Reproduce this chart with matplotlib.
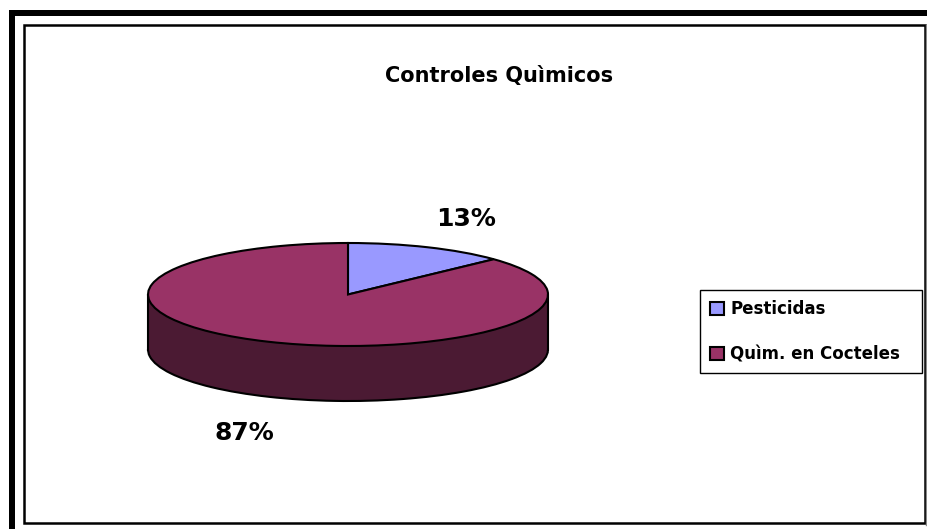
import matplotlib
matplotlib.use("Agg")
import matplotlib.pyplot as plt
from matplotlib.patches import Rectangle

title = "Controles Quìmicos"
labels = ["Pesticidas", "Quìm. en Cocteles"]
values = [13, 87]
top_colors = ["#9999FF", "#993366"]
side_color = "#4B1A33"

W, H = 928, 529
plt.rcParams["font.family"] = ["DejaVu Sans"]
plt.rcParams["font.weight"] = "bold"
fig = plt.figure(figsize=(W / 100, H / 100), dpi=100, facecolor="white")

# pixel-space backdrop for frames and text
bg = fig.add_axes([0, 0, 1, 1])
bg.set_xlim(0, W)
bg.set_ylim(H, 0)
bg.axis("off")
bg.add_patch(Rectangle((9, 10), W, 6, fc="black", ec="none"))
bg.add_patch(Rectangle((9, 10), 6, H, fc="black", ec="none"))
bg.add_patch(Rectangle((24, 24.5), 901, 498, fc="white", ec="black", lw=1.8))
bg.plot([926, 926], [25, 525], color="#888888", lw=1)
bg.text(499, 76, title, ha="center", va="center", fontsize=15, fontweight="bold")
bg.text(466, 219, f"{values[0]}%", ha="center", va="center", fontsize=18, fontweight="bold")
bg.text(244, 433, f"{values[1]}%", ha="center", va="center", fontsize=18, fontweight="bold")

# pie axes: squashed unit circle
cx, cy, rx, ry, depth = 348, 294.5, 200, 51.5, 55
x0, x1, y0, y1 = cx - 210, cx + 210, cy - 62, cy + 118
ax = fig.add_axes([x0 / W, 1 - y1 / H, (x1 - x0) / W, (y1 - y0) / H])
d = depth / ry
edge = dict(edgecolor="black", linewidth=1.5)
ax.pie(values, colors=[side_color, side_color], startangle=90, counterclock=False,
       center=(0, -d), radius=1, wedgeprops=edge, frame=True)
ax.add_patch(Rectangle((-1, -d), 2, d, fc=side_color, ec="none"))
ax.add_patch(Rectangle((-0.3, -d - 0.1), 0.6, 0.2, fc=side_color, ec="none"))
ax.plot([-1, -1], [-d, 0], color="black", lw=1.5)
ax.plot([1, 1], [-d, 0], color="black", lw=1.5)
wedges, _ = ax.pie(values, colors=top_colors, startangle=90, counterclock=False,
                   center=(0, 0), radius=1, wedgeprops=edge, frame=True)
ax.set_aspect("auto")
ax.set_xlim((x0 - cx) / rx, (x1 - cx) / rx)
ax.set_ylim((cy - y1) / ry, (cy - y0) / ry)
ax.axis("off")
ax.patch.set_alpha(0)

# legend
lx0, lx1, ly0, ly1 = 700.5, 922.5, 290.5, 373
leg = fig.legend(wedges, labels, loc="upper left",
                 bbox_to_anchor=(lx0 / W, 1 - ly1 / H, (lx1 - lx0) / W, (ly1 - ly0) / H),
                 mode="expand", borderaxespad=0, fancybox=False, framealpha=1,
                 edgecolor="black", fontsize=12, handlelength=0.84, handleheight=0.84,
                 handletextpad=0.36, labelspacing=1.6, borderpad=0.6)
leg.get_frame().set_linewidth(1.0)

fig.savefig("out.png", dpi=100)
